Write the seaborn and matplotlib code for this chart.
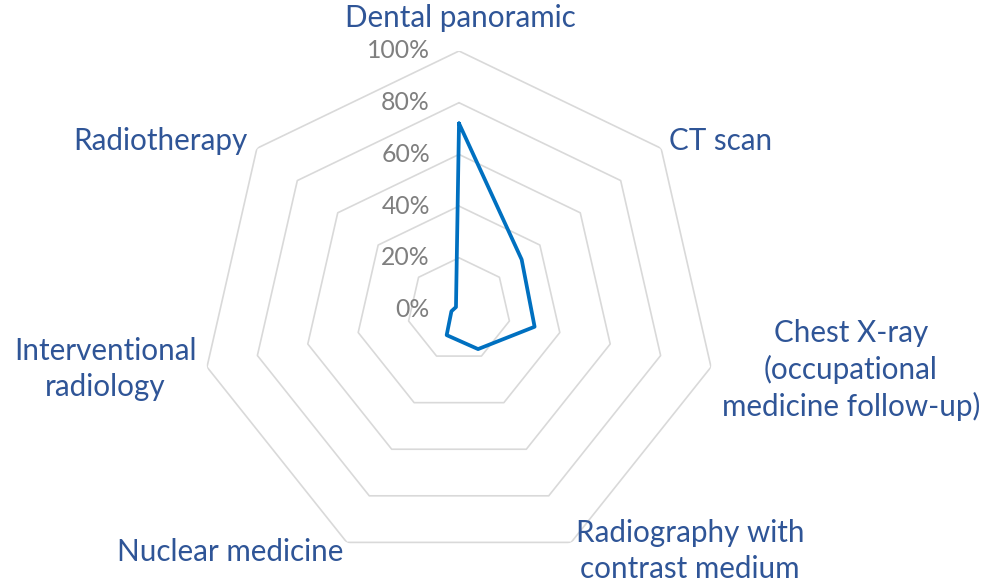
import numpy as np
import pandas as pd
import seaborn as sns
import matplotlib.pyplot as plt
from matplotlib.transforms import offset_copy

# data
categories = ["Dental panoramic", "CT scan",
              "Chest X-ray\n(occupational\nmedicine follow-up)",
              "Radiography with\ncontrast medium", "Nuclear medicine",
              "Interventional\nradiology", "Radiotherapy"]
values = [0.72, 0.31, 0.30, 0.17, 0.11, 0.03, 0.015]
ticks = [0.0, 0.2, 0.4, 0.6, 0.8, 1.0]
tick_labels = ["0%", "20%", "40%", "60%", "80%", "100%"]

sns.set_theme(style="white")
plt.rcParams['font.family'] = ['Lato', 'DejaVu Sans']

W, H = 988, 585
fig = plt.figure(figsize=(W / 100, H / 100), dpi=100)

# polar axes centred on (459, 309.5) px, radius 258.5 px
cx, cy, R = 459, 309.5, 258.5
ax = fig.add_axes([(cx - R) / W, (H - cy - R) / H, 2 * R / W, 2 * R / H],
                  projection="polar")
ax.set_theta_zero_location("N")
ax.set_theta_direction(-1)
ax.set_ylim(0, 1)
ax.grid(False)
ax.spines["polar"].set_visible(False)
ax.set_xticks([])
ax.set_yticks([])
ax.patch.set_alpha(0)

n = len(categories)
theta = np.arange(n) * 2 * np.pi / n
theta_c = np.append(theta, 2 * np.pi)

# heptagon grid
for t in ticks[1:]:
    ax.plot(theta_c, [t] * (n + 1), color="#D9D9D9", lw=1.2, zorder=1)

df = pd.DataFrame({"theta": theta_c, "value": values + values[:1]})
sns.lineplot(data=df, x="theta", y="value", sort=False, estimator=None,
             ax=ax, color="#0070C0", lw=2.7, zorder=3)
ax.set_xlabel("")
ax.set_ylabel("")

# radial tick labels left of top axis
tr = offset_copy(ax.transData, fig=fig, x=-29, y=0, units="dots")
for t, lab in zip(ticks, tick_labels):
    ax.text(0, t, lab, transform=tr, ha="right", va="center",
            fontsize=17.8, color="#7F7F7F")

lab_color = "#2F5597"
fs = 21.3
ls = 1.32
fig.text(460 / W, 1 - 18 / H, categories[0], ha="center", va="center", fontsize=fs, color=lab_color)
fig.text(669 / W, 1 - 141 / H, categories[1], ha="left", va="center", fontsize=fs, color=lab_color)
fig.text(851 / W, 1 - 370 / H, categories[2], ha="center", va="center", fontsize=fs, color=lab_color,
         linespacing=ls)
fig.text(690 / W, 1 - 551 / H, categories[3], ha="center", va="center", fontsize=fs, color=lab_color,
         linespacing=ls)
fig.text(230 / W, 1 - 552 / H, categories[4], ha="center", va="center", fontsize=fs, color=lab_color)
fig.text(105 / W, 1 - 369 / H, categories[5], ha="center", va="center", fontsize=fs, color=lab_color,
         linespacing=ls)
fig.text(248 / W, 1 - 141 / H, categories[6], ha="right", va="center", fontsize=fs, color=lab_color)

fig.savefig("out.png", dpi=100)
